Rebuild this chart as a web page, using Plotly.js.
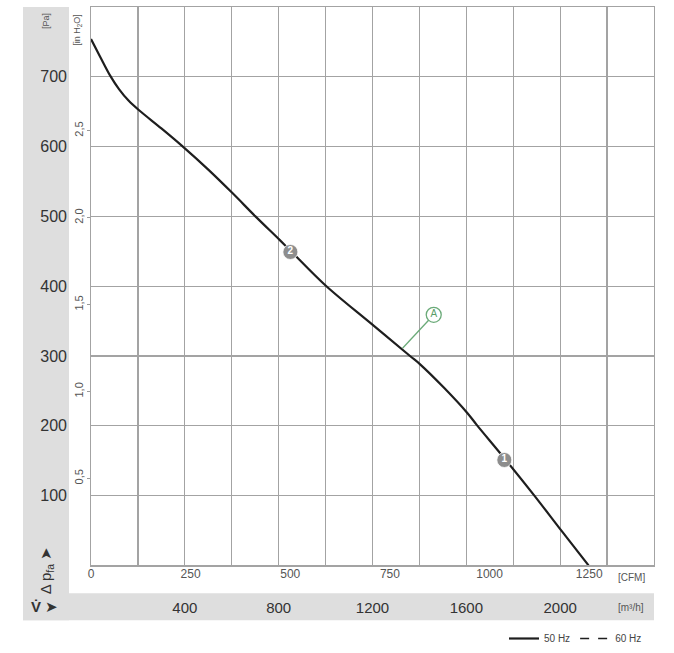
<!DOCTYPE html>
<html>
<head>
<meta charset="utf-8">
<script src="https://cdn.plot.ly/plotly-3.0.1.min.js"></script>
<style>html,body{margin:0;padding:0;background:#fff;}#chart{width:674px;height:653px;}</style>
</head>
<body>
<div id="chart"></div>
<script>
// Characteristic curve (50 Hz): volume flow in m³/h, static pressure in Pa
const flowM3h    = [0, 40, 81, 120, 160, 205, 300, 388, 500, 604, 701, 805, 850, 1000, 1192, 1360, 1403, 1506, 1605, 1645, 1761, 1890, 2007, 2121];
const pressurePa = [754, 728, 702, 682, 666, 652, 626, 601, 567, 533, 500, 466, 451, 401, 347, 300, 288, 254, 218, 201, 154, 100, 49, 0];

// Operating points
const opLabels = ['1', '2'];
const opFlow   = [1762, 850];
const opPress  = [151, 449];

// Annotation "A" leader line (m³/h, Pa)
const aLineFlow  = [1328, 1461];
const aLinePress = [311, 359];
const aLabel     = ['A'];

// Tick labels
const paTicks    = [100, 200, 300, 400, 500, 600, 700];
const inH2OTicks = [0.5, 1.0, 1.5, 2.0, 2.5];
const inH2OText  = ['0,5', '1,0', '1,5', '2,0', '2,5'];
const cfmTicks   = [0, 250, 500, 750, 1000, 1250];
const m3hTicks   = [400, 800, 1200, 1600, 2000];

const W = 674, H = 653;
const px = x => x / W;
const py = y => 1 - y / H;
const FONT = '"Liberation Sans Narrow", "Arial Narrow", "Liberation Sans", Arial, sans-serif';
const GRID = '#a3a3a3';
const M3H_PER_CFM = 1.69901;
const PA_PER_INH2O = 249.089;

const ghost = (xa, ya) => ({x: [null], y: [null], xaxis: xa, yaxis: ya, type: 'scatter', mode: 'markers',
  marker: {opacity: 0}, showlegend: false, hoverinfo: 'skip'});

const traces = [
  {
    x: flowM3h, y: pressurePa, type: 'scatter', mode: 'lines', name: '50 Hz',
    line: {color: '#1e1e1e', width: 2.2, shape: 'spline', smoothing: 1.0},
    hoverinfo: 'skip', showlegend: true
  },
  {
    x: [null], y: [null], type: 'scatter', mode: 'lines', name: '60 Hz',
    line: {color: '#1e1e1e', width: 1.6, dash: 'dash'}, showlegend: true
  },
  {
    x: aLineFlow, y: aLinePress, type: 'scatter', mode: 'lines',
    line: {color: '#6aaa78', width: 1.3}, showlegend: false, hoverinfo: 'skip'
  },
  {
    x: [aLineFlow[1]], y: [aLinePress[1]], type: 'scatter', mode: 'markers+text',
    text: aLabel, textposition: 'middle center',
    textfont: {family: FONT, size: 10, color: '#5a9e69'},
    marker: {size: 15, color: '#ffffff', line: {color: '#6aaa78', width: 1.3}},
    showlegend: false, hoverinfo: 'skip'
  },
  {
    x: opFlow, y: opPress, type: 'scatter', mode: 'markers+text',
    text: opLabels, textposition: 'middle center',
    textfont: {family: FONT, size: 10, color: '#ffffff', weight: 'bold'},
    marker: {size: 15, color: '#8d8d8d', line: {color: '#ffffff', width: 0.8}},
    showlegend: false, hoverinfo: 'skip'
  },
  ghost('x2', 'y'),
  ghost('x3', 'y'),
  ghost('x', 'y2'),
  ghost('x', 'y3')
];

const layout = {
  width: W, height: H,
  margin: {l: 0, r: 0, t: 0, b: 0, pad: 0},
  paper_bgcolor: '#ffffff', plot_bgcolor: '#ffffff',
  font: {family: FONT, color: '#333'},
  showlegend: true,
  legend: {
    orientation: 'h', x: px(504), y: py(627), xanchor: 'left', yanchor: 'top',
    font: {family: FONT, size: 10, color: '#444'}, bgcolor: 'rgba(0,0,0,0)',
    itemwidth: 30, tracegroupgap: 0
  },
  xaxis: {
    domain: [px(91), px(654)], range: [0, 2400], tick0: 0, dtick: 200,
    showgrid: true, gridcolor: GRID, gridwidth: 1.3,
    showline: true, mirror: true, linecolor: GRID, linewidth: 1.3,
    zeroline: false, showticklabels: false, ticks: '', fixedrange: true
  },
  yaxis: {
    domain: [py(568), py(7)], range: [0, 800], tick0: 0, dtick: 100,
    showgrid: true, gridcolor: GRID, gridwidth: 1.3,
    showline: true, mirror: true, linecolor: GRID, linewidth: 1.3,
    zeroline: false, showticklabels: false, ticks: '', fixedrange: true
  },
  xaxis2: {
    overlaying: 'x', anchor: 'y', side: 'bottom',
    range: [0, 2400 / M3H_PER_CFM], tickmode: 'array', tickvals: cfmTicks,
    showgrid: false, zeroline: false, showline: false, ticks: '',
    tickfont: {family: FONT, size: 12, color: '#555'}, fixedrange: true
  },
  xaxis3: {
    overlaying: 'x', anchor: 'free', position: py(600), side: 'bottom',
    range: [0, 2400], tickmode: 'array', tickvals: m3hTicks,
    showgrid: false, zeroline: false, showline: false, ticks: '',
    tickfont: {family: FONT, size: 15, color: '#333'}, fixedrange: true
  },
  yaxis2: {
    overlaying: 'y', anchor: 'free', position: px(67), side: 'left',
    range: [0, 800], tickmode: 'array', tickvals: paTicks,
    showgrid: false, zeroline: false, showline: false, ticks: '',
    tickfont: {family: FONT, size: 16, color: '#333'}, fixedrange: true
  },
  yaxis3: {
    overlaying: 'y', anchor: 'x', side: 'left',
    range: [0, 800 / PA_PER_INH2O], tickmode: 'array', tickvals: inH2OTicks, ticktext: inH2OText,
    showgrid: false, zeroline: false, showline: false,
    ticks: 'outside', ticklen: 3, tickcolor: '#999', tickwidth: 1, tickangle: -90,
    tickfont: {family: FONT, size: 11, color: '#555'}, fixedrange: true
  },
  shapes: [
    {type: 'rect', xref: 'paper', yref: 'paper', x0: px(23), x1: px(69), y0: py(623), y1: py(7),
     fillcolor: '#dedede', line: {width: 0}, layer: 'below'},
    {type: 'rect', xref: 'paper', yref: 'paper', x0: px(23), x1: px(654), y0: py(623), y1: py(596),
     fillcolor: '#dedede', line: {width: 0}, layer: 'below'}
  ],
  annotations: [
    {text: '[Pa]', xref: 'paper', yref: 'paper', x: px(46), y: py(21), textangle: -90,
     showarrow: false, xanchor: 'center', yanchor: 'middle', font: {family: FONT, size: 9, color: '#555'}},
    {text: '[in H<sub>2</sub>O]', xref: 'paper', yref: 'paper', x: px(78), y: py(30), textangle: -90,
     showarrow: false, xanchor: 'center', yanchor: 'middle', font: {family: FONT, size: 9, color: '#555'}},
    {text: 'Δ p<sub>fa</sub> ➤', xref: 'paper', yref: 'paper', x: px(46), y: py(573), textangle: -90,
     showarrow: false, xanchor: 'center', yanchor: 'middle', font: {family: FONT, size: 15, color: '#333'}},
    {text: '<b>V̇</b> ➤', xref: 'paper', yref: 'paper', x: px(44), y: py(609),
     showarrow: false, xanchor: 'center', yanchor: 'middle', font: {family: FONT, size: 15, color: '#333'}},
    {text: '[CFM]', xref: 'paper', yref: 'paper', x: px(631), y: py(580),
     showarrow: false, xanchor: 'center', yanchor: 'middle', font: {family: FONT, size: 10, color: '#555'}},
    {text: '[m³/h]', xref: 'paper', yref: 'paper', x: px(631), y: py(610),
     showarrow: false, xanchor: 'center', yanchor: 'middle', font: {family: FONT, size: 10, color: '#555'}}
  ]
};

Plotly.newPlot('chart', traces, layout, {displayModeBar: false, staticPlot: true});
</script>
</body>
</html>
